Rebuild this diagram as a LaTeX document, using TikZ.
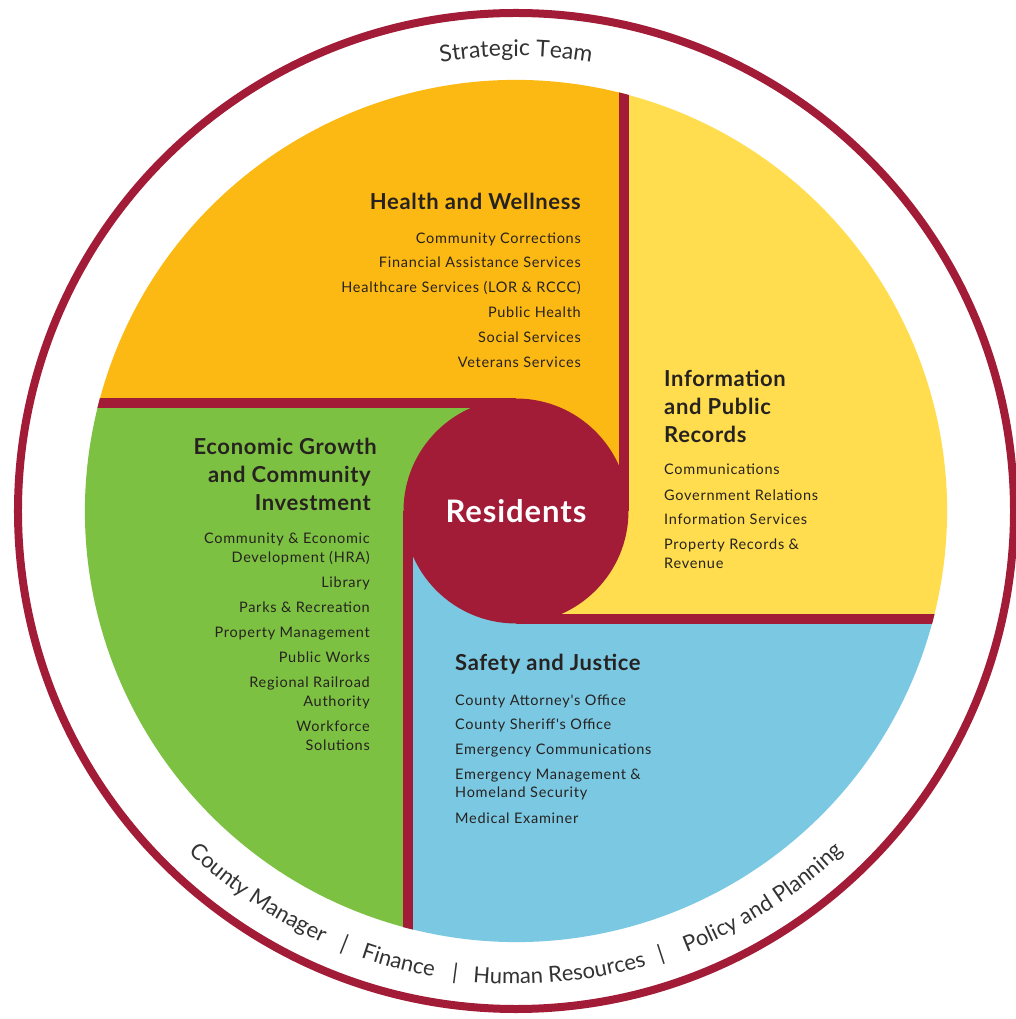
\documentclass[tikz,border=0pt]{standalone}
\usepackage{fontspec}
\setmainfont{Lato}
\newfontfamily\itemfont[LetterSpace=5]{Lato}
\newfontfamily\headfont[LetterSpace=3]{Lato}
\usetikzlibrary{decorations.text}
\definecolor{crim}{HTML}{A21C37}
\definecolor{orng}{HTML}{FDB913}
\definecolor{yell}{HTML}{FFDD4F}
\definecolor{grn}{HTML}{7DC142}
\definecolor{blu}{HTML}{7BC8E3}
\definecolor{txt}{HTML}{262220}
\definecolor{ringtxt}{HTML}{333333}
\begin{document}
\begin{tikzpicture}[x=1pt,y=1pt,
  divider/.style={draw=crim, line width=9.5pt},
  head/.style={font=\headfont\fontsize{22}{26}\selectfont\bfseries, text=txt, inner sep=0pt},
  item/.style={font=\itemfont\fontsize{14.5}{17}\selectfont, text=txt, inner sep=0pt},
  ringlabel/.style={decorate, decoration={text along path, text align=center, text color=ringtxt, text format delimiters={[}{]}}}]
\useasboundingbox (-516,-508) rectangle (500,511);
\fill[white] (-516,-508) rectangle (500,511);
% quadrants
\fill[orng] (108,417.25) -- (108,0) arc[start angle=0, end angle=90, radius=108] -- (-417.25,108) arc[start angle=165.49, end angle=75.49, radius=431] -- cycle;
\fill[yell] (108,417.25) -- (108,0) arc[start angle=0, end angle=-90, radius=108] -- (417.25,-108) arc[start angle=-14.51, end angle=75.49, radius=431] -- cycle;
\fill[blu] (417.25,-108) -- (0,-108) arc[start angle=-90, end angle=-180, radius=108] -- (-108,-417.25) arc[start angle=-104.51, end angle=-14.51, radius=431] -- cycle;
\fill[grn] (-108,-417.25) -- (-108,0) arc[start angle=180, end angle=90, radius=108] -- (-417.25,108) arc[start angle=165.49, end angle=255.49, radius=431] -- cycle;
% dividers
\coordinate (dTa) at (108,440); \coordinate (dTb) at (108,0);
\coordinate (dLa) at (-440,108); \coordinate (dLb) at (0,108);
\coordinate (dRa) at (440,-108); \coordinate (dRb) at (0,-108);
\coordinate (dBa) at (-108,-440); \coordinate (dBb) at (-108,0);
\begin{scope}
\clip (0,0) circle[radius=431];
\draw[divider] (dTa) -- (dTb);
\draw[divider] (dLa) -- (dLb);
\draw[divider] (dRa) -- (dRb);
\draw[divider] (dBa) -- (dBb);
\end{scope}
\node[circle, fill=crim, minimum size=225pt, inner sep=0pt, text=white, font=\headfont\fontsize{31}{34}\selectfont\bfseries] (res) at (0,0) {Residents};
% outer ring
\draw[crim, line width=8pt] (0,0) circle[radius=498];
% ring labels
\path[ringlabel, decoration={text={[\fontsize{23}{23}\selectfont]Strategic Team}}] (125:455) arc[start angle=125, end angle=55, radius=455];
\path[ringlabel, decoration={text={[\fontsize{22}{22}\selectfont]County Manager}}] (203:473) arc[start angle=203, end angle=269, radius=473];
\path[ringlabel, decoration={text={[\fontsize{22}{22}\selectfont]|}}] (228.4:473) arc[start angle=228.4, end angle=268.4, radius=473];
\path[ringlabel, decoration={text={[\fontsize{22}{22}\selectfont]Finance}}] (225.4:473) arc[start angle=225.4, end angle=285.4, radius=473];
\path[ringlabel, decoration={text={[\fontsize{22}{22}\selectfont]|}}] (242.5:473) arc[start angle=242.5, end angle=282.5, radius=473];
\path[ringlabel, decoration={text={[\fontsize{22}{22}\selectfont]Human Resources}}] (245.4:473) arc[start angle=245.4, end angle=305.4, radius=473];
\path[ringlabel, decoration={text={[\fontsize{22}{22}\selectfont]|}}] (268.1:473) arc[start angle=268.1, end angle=308.1, radius=473];
\path[ringlabel, decoration={text={[\fontsize{22}{22}\selectfont]Policy and Planning}}] (268.5:473) arc[start angle=268.5, end angle=336.5, radius=473];
% Health and Wellness
\node[head, anchor=mid east] (hw) at (65,304) {Health and Wellness};
\node[item, anchor=mid east] (hw1) at (65,270) {Community Corrections};
\node[item, anchor=mid east] (hw2) at (65,246) {Financial Assistance Services};
\node[item, anchor=mid east] (hw3) at (65,221) {Healthcare Services (LOR \& RCCC)};
\node[item, anchor=mid east] (hw4) at (65,196) {Public Health};
\node[item, anchor=mid east] (hw5) at (65,171) {Social Services};
\node[item, anchor=mid east] (hw6) at (65,146) {Veterans Services};
% Information and Public Records
\node[head, anchor=mid west] (ip1) at (148,127) {Information};
\node[head, anchor=mid west] (ip2) at (148,99) {and Public};
\node[head, anchor=mid west] (ip3) at (148,71) {Records};
\node[item, anchor=mid west] (ipa) at (148,39) {Communications};
\node[item, anchor=mid west] (ipb) at (148,13) {Government Relations};
\node[item, anchor=mid west] (ipc) at (148,-11) {Information Services};
\node[item, anchor=mid west] (ipd) at (148,-36) {Property Records \&};
\node[item, anchor=mid west] (ipe) at (148,-55) {Revenue};
% Economic Growth
\node[head, anchor=mid east] (eg1) at (-139,59) {Economic Growth};
\node[head, anchor=mid east] (eg2) at (-145,31) {and Community};
\node[head, anchor=mid east] (eg3) at (-145,3) {Investment};
\node[item, anchor=mid east] (ega) at (-146,-30) {Community \& Economic};
\node[item, anchor=mid east] (egb) at (-146,-49) {Development (HRA)};
\node[item, anchor=mid east] (egc) at (-146,-74) {Library};
\node[item, anchor=mid east] (egd) at (-146,-99) {Parks \& Recreation};
\node[item, anchor=mid east] (ege) at (-146,-124) {Property Management};
\node[item, anchor=mid east] (egf) at (-146,-149) {Public Works};
\node[item, anchor=mid east] (egg) at (-146,-174) {Regional Railroad};
\node[item, anchor=mid east] (egh) at (-146,-193) {Authority};
\node[item, anchor=mid east] (egi) at (-146,-218) {Workforce};
\node[item, anchor=mid east] (egj) at (-146,-237) {Solutions};
% Safety and Justice
\node[head, anchor=mid west] (sj) at (-61,-157) {Safety and Justice};
\node[item, anchor=mid west] (sj1) at (-61,-192) {County Attorney's Office};
\node[item, anchor=mid west] (sj2) at (-61,-216) {County Sheriff's Office};
\node[item, anchor=mid west] (sj3) at (-61,-241) {Emergency Communications};
\node[item, anchor=mid west] (sj4) at (-61,-266) {Emergency Management \&};
\node[item, anchor=mid west] (sj5) at (-61,-284) {Homeland Security};
\node[item, anchor=mid west] (sj6) at (-61,-310) {Medical Examiner};
\end{tikzpicture}
\end{document}
